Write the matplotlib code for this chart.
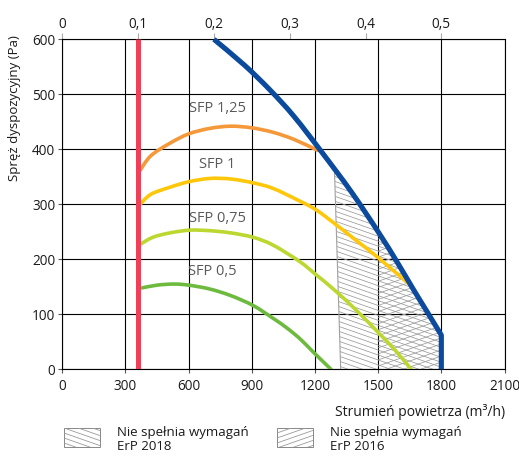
import matplotlib
matplotlib.use('Agg')
import matplotlib.pyplot as plt
import numpy as np
from matplotlib.collections import LineCollection
from matplotlib.patches import Polygon, Rectangle, PathPatch
from matplotlib.path import Path

plt.rcParams['font.family'] = ['Open Sans', 'DejaVu Sans']

# ---------------- data ----------------
x_ticks = [0, 300, 600, 900, 1200, 1500, 1800, 2100]
y_ticks = [0, 100, 200, 300, 400, 500, 600]
top_ticks = [0, 0.1, 0.2, 0.3, 0.4, 0.5]
top_labels = ['0', '0,1', '0,2', '0,3', '0,4', '0,5']

min_flow = 360  # m3/h (0,1 m3/s)

blue_x = [720, 865, 986, 1100, 1230, 1370, 1500, 1590, 1666, 1735, 1800, 1800]
blue_y = [600, 553, 508, 460, 396, 324, 250, 195, 146, 103, 62, 0]

sfp125_x = [365, 420, 511, 600, 700, 800, 900, 1000, 1100, 1213]
sfp125_y = [359, 388, 411, 428, 438, 442, 439, 431, 418, 398]

sfp1_x = [365, 420, 511, 600, 700, 800, 906, 1000, 1127, 1205, 1300, 1400, 1500, 1662]
sfp1_y = [298, 318, 331, 341, 347, 346, 339, 329, 306, 290, 263, 233, 203, 150]

sfp075_x = [365, 430, 511, 606, 700, 800, 906, 1000, 1127, 1205, 1290, 1400, 1500, 1580, 1657]
sfp075_y = [226, 240, 248, 253, 252, 248, 240, 226, 196, 172, 145, 106, 67, 35, 0]

sfp05_x = [379, 450, 530, 600, 700, 800, 906, 1000, 1067, 1130, 1190, 1276]
sfp05_y = [148, 153, 155, 153, 146, 134, 116, 93, 75, 55, 32, 0]

sfp_labels = ['SFP 1,25', 'SFP 1', 'SFP 0,75', 'SFP 0,5']
sfp_label_x = [735, 735, 735, 712]
sfp_label_y = [475, 373, 275, 177]

erp2018_left_x = [1293, 1322]
erp2018_left_y = [356, 0]
erp2016_left_x = 1500

legend_labels = ['Nie spełnia wymagań\nErP 2018', 'Nie spełnia wymagań\nErP 2016']

# ---------------- figure ----------------
W, H = 519, 457
fig = plt.figure(figsize=(W / 100, H / 100), dpi=100)
ax = fig.add_axes([62.3 / W, 1 - 369.3 / H, 442.2 / W, 330 / H])
ax.set_xlim(0, 2100)
ax.set_ylim(0, 600)

ax.set_xticks(x_ticks)
ax.set_yticks(y_ticks)
ax.grid(True, color='black', linewidth=0.8, zorder=0)
ax.set_axisbelow(True)
for s in ax.spines.values():
    s.set_color('black')
    s.set_linewidth(0.8)
ax.tick_params(axis='both', length=3, width=0.8, color='#555555',
               labelsize=9.8, labelcolor='#1a1a1a')
ax.tick_params(axis='x', pad=4)
ax.tick_params(axis='y', pad=2)

sec = ax.secondary_xaxis('top', functions=(lambda v: v / 3600.0, lambda v: v * 3600.0))
sec.set_xticks(top_ticks)
sec.set_xticklabels(top_labels)
sec.tick_params(length=4, width=0.8, color='#aaaaaa', labelsize=9.8,
                labelcolor='#1a1a1a', pad=1)
sec.spines['top'].set_visible(False)


def smooth_path(xs, ys, tail_straight=0):
    """Catmull-Rom curve through the given points drawn as cubic Beziers."""
    xs = np.asarray(xs, float)
    ys = np.asarray(ys, float)
    n = len(xs) - tail_straight
    P = np.column_stack([xs[:n], ys[:n]])
    verts = [P[0]]
    codes = [Path.MOVETO]
    for i in range(n - 1):
        p0 = P[i - 1] if i > 0 else P[i]
        p1 = P[i]
        p2 = P[i + 1]
        p3 = P[i + 2] if i + 2 < n else P[i + 1]
        c1 = p1 + (p2 - p0) / 6.0
        c2 = p2 - (p3 - p1) / 6.0
        verts += [c1, c2, p2]
        codes += [Path.CURVE4] * 3
    for j in range(n, len(xs)):
        verts.append((xs[j], ys[j]))
        codes.append(Path.LINETO)
    return Path(verts, codes)


def draw_curve(xs, ys, color, lw, z, tail_straight=0, cap='round'):
    pp = PathPatch(smooth_path(xs, ys, tail_straight), facecolor='none',
                   edgecolor=color, linewidth=lw, zorder=z, capstyle=cap,
                   joinstyle='round')
    ax.add_patch(pp)
    return pp


# ---------------- hatched regions ----------------
bx = np.array(blue_x, dtype=float)
by = np.array(blue_y, dtype=float)


def region(left_top_x, left_bot_x):
    top_y = np.interp(left_top_x, bx[:-1], by[:-1])
    mask = (bx > left_top_x)
    px = np.concatenate([[left_top_x], bx[mask], [left_bot_x]])
    py = np.concatenate([[top_y], by[mask], [0]])
    return np.column_stack([px, py])


poly2018 = region(erp2018_left_x[0], erp2018_left_x[1])
poly2016 = region(erp2016_left_x, erp2016_left_x)

hatch_col = '#9a9a9a'


def hatch_lines(poly_xy, sign, spacing, slope=0.134):
    patch = Polygon(poly_xy, closed=True, facecolor='none', edgecolor='none',
                    transform=ax.transData)
    ax.add_patch(patch)
    segs = []
    for c in np.arange(-600, 900, spacing):
        x0, x1 = 1000, 2000
        segs.append([(x0, c + sign * slope * (x0 - 1000)),
                     (x1, c + sign * slope * (x1 - 1000))])
    lc = LineCollection(segs, colors=hatch_col, linewidths=0.55, zorder=2)
    ax.add_collection(lc)
    lc.set_clip_path(patch)


hatch_lines(poly2018, -1, 9)
hatch_lines(poly2016, +1, 11)
ax.plot(erp2018_left_x, erp2018_left_y, color='#a0a0a0', linewidth=0.8, zorder=2)

# ---------------- curves ----------------
draw_curve(sfp125_x, sfp125_y, '#f5983a', 2.6, 3)
draw_curve(sfp1_x, sfp1_y, '#fec70a', 2.6, 3)
draw_curve(sfp075_x, sfp075_y, '#bdd731', 2.6, 3)
draw_curve(sfp05_x, sfp05_y, '#6dba3f', 2.6, 3)
bp = draw_curve(blue_x, blue_y, '#0b4a9d', 3.7, 4, tail_straight=1, cap='butt')
bp.set_clip_on(False)
ax.plot([min_flow, min_flow], [0, 600], color='#ee4059', linewidth=3.6, zorder=4,
        solid_capstyle='butt')

for t, lx, ly in zip(sfp_labels, sfp_label_x, sfp_label_y):
    ax.text(lx, ly, t, ha='center', va='center', fontsize=10.5, color='#5a5a5a',
            zorder=5)

# ---------------- overlay (pixel coords) ----------------
ov = fig.add_axes([0, 0, 1, 1], facecolor='none')
ov.set_xlim(0, W)
ov.set_ylim(H, 0)
ov.axis('off')

ov.text(15, 108, 'Spręż dyspozycyjny (Pa)', rotation=90, ha='center', va='center',
        fontsize=9.5, color='#1a1a1a')
ov.text(505, 412, 'Strumień powietrza (m³/h)', ha='right', va='center',
        fontsize=10, color='#1a1a1a')


def legend_box(x0, label, sign):
    x1 = x0 + 36
    y0, y1 = 428, 447
    rect = Rectangle((x0, y0), x1 - x0, y1 - y0, facecolor='white',
                     edgecolor='#888888', linewidth=0.7)
    ov.add_patch(rect)
    segs = []
    for c in np.arange(y0 - 20, y1 + 20, 5):
        segs.append([(x0, c), (x1, c + sign * 0.35 * (x1 - x0))])
    lc = LineCollection(segs, colors='#9a9a9a', linewidths=0.6)
    ov.add_collection(lc)
    lc.set_clip_path(rect)
    ov.text(x0 + 53, 439.5, label, ha='left', va='center', fontsize=9.5,
            color='#1a1a1a', linespacing=1.05)


legend_box(64, legend_labels[0], +1)
legend_box(277, legend_labels[1], -1)

fig.savefig('out.png', dpi=100)
